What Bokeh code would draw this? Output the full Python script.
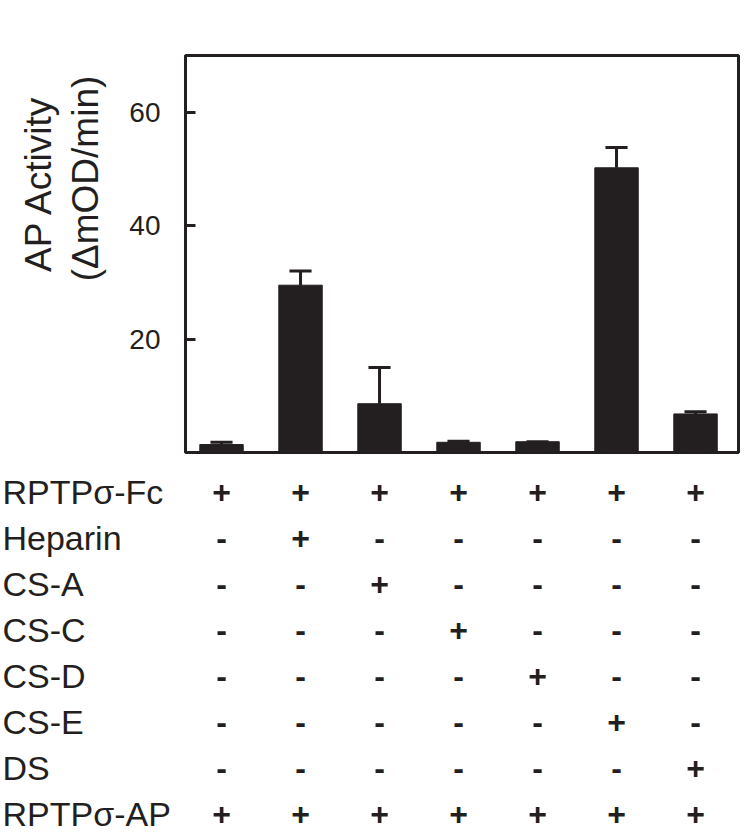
from bokeh.plotting import figure
from bokeh.layouts import column, row
from bokeh.models import Range1d, FixedTicker
from bokeh.embed import file_html
from bokeh.resources import INLINE
from bokeh.core.properties import value
import math

# ---- data ----
conditions = [1, 2, 3, 4, 5, 6, 7]
activity = [1.4, 29.5, 8.6, 1.8, 1.9, 50.2, 6.8]
activity_err_top = [1.8, 32.0, 15.0, 2.0, 1.9, 53.8, 7.2]
y_ticks = [20, 40, 60]
row_labels = ["RPTP\u03c3-Fc", "Heparin", "CS-A", "CS-C", "CS-D", "CS-E", "DS", "RPTP\u03c3-AP"]
row_signs = [
    ["+", "+", "+", "+", "+", "+", "+"],
    ["-", "+", "-", "-", "-", "-", "-"],
    ["-", "-", "+", "-", "-", "-", "-"],
    ["-", "-", "-", "+", "-", "-", "-"],
    ["-", "-", "-", "-", "+", "-", "-"],
    ["-", "-", "-", "-", "-", "+", "-"],
    ["-", "-", "-", "-", "-", "-", "+"],
    ["+", "+", "+", "+", "+", "+", "+"],
]
y_title_lines = ["AP Activity", "(\u0394mOD/min)"]

INK = "#231f20"
FONT = "Liberation Sans"


def clean(fig):
    fig.frame_align = False
    fig.background_fill_color = "white"
    fig.border_fill_color = "white"


# ---- y-axis title panel ----
TW, TH = 115, 460
ttl = figure(width=TW, height=TH, x_range=Range1d(0, TW), y_range=Range1d(TH, 0),
             output_backend="svg", toolbar_location=None,
             min_border_left=0, min_border_right=0, min_border_top=0, min_border_bottom=0)
clean(ttl)
ttl.axis.visible = False
ttl.grid.visible = False
ttl.outline_line_color = None
ttl.text(x=[38, 85], y=[183, 178], text=y_title_lines, angle=math.pi / 2,
         text_align="center", text_baseline="middle",
         text_font=value(FONT), text_font_size="37px", text_color=INK)

# ---- bar chart ----
p = figure(width=750 - TW, height=TH, x_range=Range1d(0.544, 7.544), y_range=Range1d(0, 70),
           output_backend="svg", toolbar_location=None,
           min_border_left=185 - TW, min_border_right=12, min_border_top=55, min_border_bottom=8)
clean(p)
p.outline_line_color = INK
p.outline_line_width = 3
p.outline_line_alpha = 1.0
p.xgrid.visible = False
p.ygrid.visible = False
p.xaxis.visible = False

ya = p.yaxis[0]
ya.ticker = FixedTicker(ticks=y_ticks)
ya.major_tick_in = 10
ya.major_tick_out = 0
ya.minor_tick_in = 0
ya.minor_tick_out = 0
ya.axis_line_width = 3
ya.axis_line_color = INK
ya.major_tick_line_width = 3
ya.major_tick_line_color = INK
ya.major_label_text_font = FONT
ya.major_label_text_font_size = "28px"
ya.major_label_text_color = INK
ya.major_label_standoff = 25

p.vbar(x=conditions, top=activity, bottom=0, width=0.55, fill_color=INK, line_color=INK)
cap_half = 0.14
p.segment(x0=conditions, y0=activity, x1=conditions, y1=activity_err_top, line_width=3, line_color=INK)
p.segment(x0=[c - cap_half for c in conditions], y0=activity_err_top,
          x1=[c + cap_half for c in conditions], y1=activity_err_top, line_width=3, line_color=INK)

# ---- condition table ----
H2 = 372
row_top = 31
row_step = 46
x_start, x_end = -1.797, 7.696
t = figure(width=750, height=H2, x_range=Range1d(x_start, x_end),
           y_range=Range1d((H2 - row_top) / row_step, -row_top / row_step),
           output_backend="svg", toolbar_location=None,
           min_border_left=0, min_border_right=0, min_border_top=0, min_border_bottom=0)
clean(t)
t.axis.visible = False
t.grid.visible = False
t.outline_line_color = None

rows = list(range(len(row_labels)))
t.text(x=[x_start] * len(rows), y=rows, text=row_labels, text_align="left", text_baseline="middle",
       x_offset=2, text_font=value(FONT), text_font_size="34px", text_color=INK)

sx, sy, st = [], [], []
for r, signs in enumerate(row_signs):
    for c, s in zip(conditions, signs):
        sx.append(c)
        sy.append(r)
        st.append(s)
t.text(x=sx, y=sy, text=st, text_align="center", text_baseline="middle",
       text_font=value(FONT), text_font_size="32px", text_font_style="bold", text_color=INK)

layout = column(row(ttl, p, spacing=0), t, spacing=0)
open("out.html", "w").write(file_html(layout, INLINE))
